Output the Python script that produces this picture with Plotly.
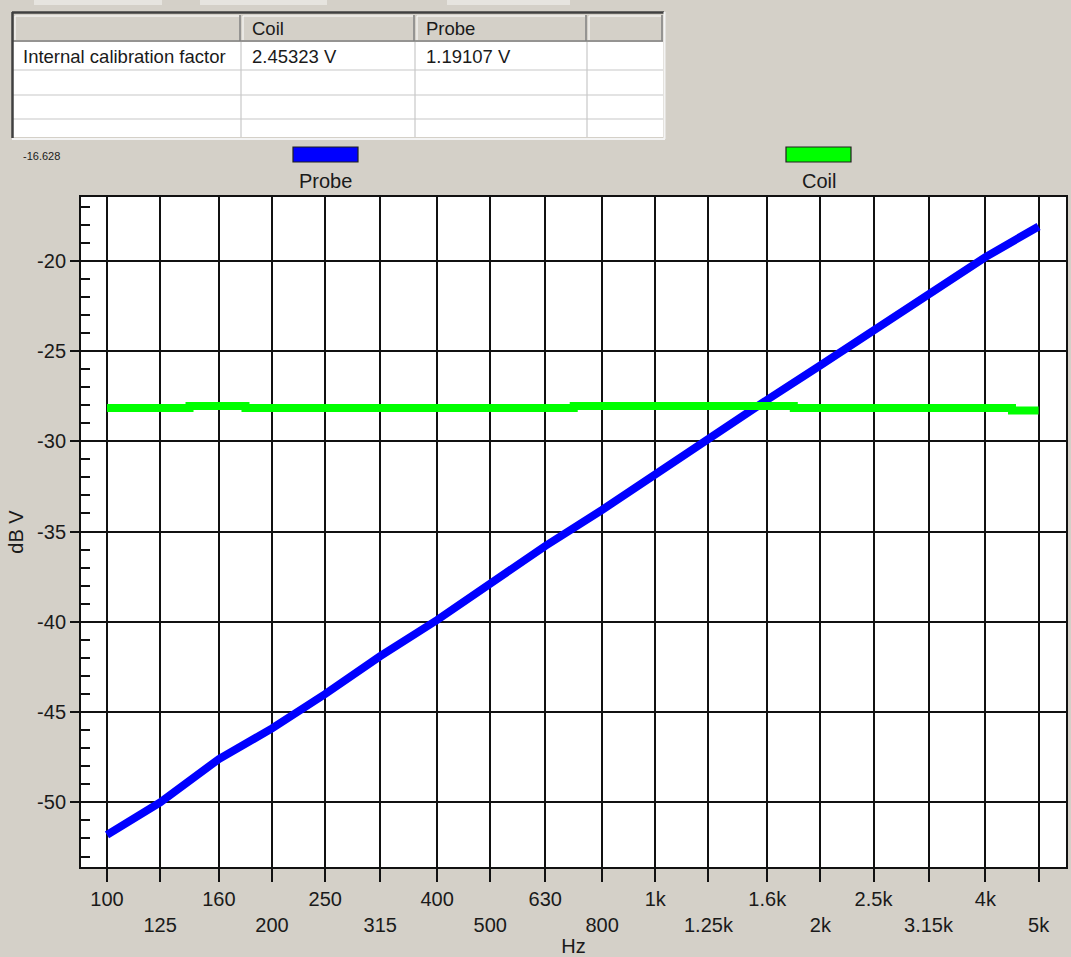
import numpy as np
import plotly.graph_objects as go

# ---------------- data ----------------
freq_hz = [100, 125, 160, 200, 250, 315, 400, 500, 630, 800,
           1000, 1250, 1600, 2000, 2500, 3150, 4000, 5000]
freq_labels = ["100", "125", "160", "200", "250", "315", "400", "500", "630", "800",
               "1k", "1.25k", "1.6k", "2k", "2.5k", "3.15k", "4k", "5k"]
probe_db = [-51.8, -50.0, -47.6, -45.9, -44.0, -41.9, -39.9, -37.9, -35.8, -33.8,
            -31.8, -29.9, -27.7, -25.8, -23.9, -21.9, -19.8, -18.1]
coil_db = [-28.15, -28.15, -28.05, -28.15, -28.15, -28.15, -28.15, -28.15, -28.15, -28.05,
           -28.05, -28.05, -28.05, -28.15, -28.15, -28.15, -28.15, -28.3]
series_names = ["Probe", "Coil"]
series_colors = ["#0000ff", "#00ff00"]
y_ticks = [-50, -45, -40, -35, -30, -25, -20]
y_tick_labels = ["-50", "-45", "-40", "-35", "-30", "-25", "-20"]
y_top_readout = "-16.628"

table_header = ["", "Coil", "Probe", ""]
table_row_labels = ["Internal calibration factor", "", "", ""]
table_coil = ["2.45323 V", "", "", ""]
table_probe = ["1.19107 V", "", "", ""]

# ---------------- geometry helpers ----------------
W, H = 1071, 957
def px(x):
    return x / W
def py(y):
    return 1 - y / H

BG = "#d4d0c8"
FONT = "Liberation Sans, Arial, sans-serif"

fig = go.Figure()
fig.add_trace(go.Scatter(x=freq_hz, y=probe_db, name=series_names[0], mode="lines",
                         line=dict(color=series_colors[0], width=8), showlegend=False))
fig.add_trace(go.Scatter(x=freq_hz, y=coil_db, name=series_names[1], mode="lines",
                         line=dict(color=series_colors[1], width=8, shape="hvh"),
                         showlegend=False))

# two staggered rows of tick labels
ticktext = [lab if i % 2 == 0 else "<br>" + lab for i, lab in enumerate(freq_labels)]

fig.update_layout(
    width=W, height=H,
    margin=dict(l=0, r=0, t=0, b=0, pad=0),
    paper_bgcolor=BG, plot_bgcolor="white",
    font=dict(family=FONT, size=20, color="#1a1a1a"),
    xaxis=dict(type="log", domain=[px(81), px(1066)],
               range=[1.9526, 3.749],
               tickvals=freq_hz, ticktext=ticktext, tickangle=0,
               ticks="outside", ticklen=13, tickwidth=2, tickcolor="#111",
               showgrid=True, gridcolor="#111", gridwidth=1.6,
               showline=True, linecolor="#111", linewidth=2, mirror=True,
               zeroline=False,
               title=dict(text="Hz", standoff=2, font=dict(size=20)),
               tickfont=dict(size=20)),
    yaxis=dict(domain=[py(867), py(197)],
               range=[-53.58, -16.47],
               tickvals=y_ticks, ticktext=y_tick_labels,
               ticks="outside", ticklen=9, tickwidth=2, tickcolor="#111",
               showgrid=True, gridcolor="#111", gridwidth=1.6,
               showline=True, linecolor="#111", linewidth=2, mirror=True,
               zeroline=False,
               minor=dict(dtick=1, ticks="inside", ticklen=9, tickwidth=2,
                          tickcolor="#111", showgrid=False),
               title=dict(text="dB V", standoff=8, font=dict(size=20)),
               tickfont=dict(size=20)),
)

shapes = []
annotations = []

# faint tab strips at the very top
for x0, x1 in [(34, 162), (200, 327), (447, 570)]:
    shapes.append(dict(type="rect", xref="paper", yref="paper",
                       x0=px(x0), x1=px(x1), y0=py(5), y1=py(0),
                       fillcolor="#e6e4df", line=dict(width=0), layer="below"))

# ---------------- table ----------------
col_x = [13, 241, 415, 587, 663]
row_y = [13, 42, 70, 95, 119, 137]
# body white
shapes.append(dict(type="rect", xref="paper", yref="paper",
                   x0=px(col_x[0]), x1=px(col_x[-1]), y0=py(row_y[-1]), y1=py(row_y[1]),
                   fillcolor="white", line=dict(width=0)))
# header cells (raised look)
for c in range(4):
    shapes.append(dict(type="rect", xref="paper", yref="paper",
                       x0=px(col_x[c]), x1=px(col_x[c + 1]), y0=py(row_y[1]), y1=py(row_y[0]),
                       fillcolor=BG, line=dict(width=0)))
    shapes.append(dict(type="line", xref="paper", yref="paper",
                       x0=px(col_x[c] + 2), x1=px(col_x[c + 1] - 2), y0=py(row_y[0] + 3), y1=py(row_y[0] + 3),
                       line=dict(color="white", width=1)))
    shapes.append(dict(type="line", xref="paper", yref="paper",
                       x0=px(col_x[c] + 2), x1=px(col_x[c] + 2), y0=py(row_y[1] - 2), y1=py(row_y[0] + 3),
                       line=dict(color="white", width=1)))
    shapes.append(dict(type="line", xref="paper", yref="paper",
                       x0=px(col_x[c + 1] - 1), x1=px(col_x[c + 1] - 1), y0=py(row_y[1] - 1), y1=py(row_y[0] + 2),
                       line=dict(color="#808080", width=1.5)))
    shapes.append(dict(type="line", xref="paper", yref="paper",
                       x0=px(col_x[c]), x1=px(col_x[c + 1]), y0=py(row_y[1] - 1), y1=py(row_y[1] - 1),
                       line=dict(color="#808080", width=1.5)))
# body grid lines
for r in range(2, 5):
    shapes.append(dict(type="line", xref="paper", yref="paper",
                       x0=px(col_x[0]), x1=px(col_x[-1]), y0=py(row_y[r]), y1=py(row_y[r]),
                       line=dict(color="#c8c8c8", width=1.2)))
for c in range(1, 4):
    shapes.append(dict(type="line", xref="paper", yref="paper",
                       x0=px(col_x[c]), x1=px(col_x[c]), y0=py(row_y[-1]), y1=py(row_y[1]),
                       line=dict(color="#c8c8c8", width=1.2)))
# outer sunken border
shapes.append(dict(type="line", xref="paper", yref="paper",
                   x0=px(12), x1=px(664), y0=py(12.5), y1=py(12.5),
                   line=dict(color="#404040", width=2.5)))
shapes.append(dict(type="line", xref="paper", yref="paper",
                   x0=px(12.5), x1=px(12.5), y0=py(138), y1=py(12),
                   line=dict(color="#404040", width=2.5)))
shapes.append(dict(type="line", xref="paper", yref="paper",
                   x0=px(12), x1=px(665), y0=py(139), y1=py(139),
                   line=dict(color="#f4f4f4", width=2)))
shapes.append(dict(type="line", xref="paper", yref="paper",
                   x0=px(664.5), x1=px(664.5), y0=py(139), y1=py(12),
                   line=dict(color="#f4f4f4", width=2)))

text_cols = [table_row_labels, table_coil, table_probe]
text_x = [21, 250, 424]
for c, hdr in enumerate(table_header):
    if hdr:
        annotations.append(dict(text=hdr, xref="paper", yref="paper", x=px(col_x[c] + 9),
                                y=py((row_y[0] + row_y[1]) / 2 + 1), xanchor="left", yanchor="middle",
                                showarrow=False, font=dict(size=18.5, family=FONT, color="#1a1a1a")))
for c, col in enumerate(text_cols):
    for r, val in enumerate(col):
        if val:
            annotations.append(dict(text=val, xref="paper", yref="paper", x=px(text_x[c]),
                                    y=py((row_y[r + 1] + row_y[r + 2]) / 2), xanchor="left",
                                    yanchor="middle", showarrow=False,
                                    font=dict(size=18.5, family=FONT, color="#1a1a1a")))

# top readout
annotations.append(dict(text=y_top_readout, xref="paper", yref="paper", x=px(21), y=py(156),
                        xanchor="left", yanchor="middle", showarrow=False,
                        font=dict(size=11, family=FONT, color="#1a1a1a")))

# ---------------- custom legend ----------------
legend_cx = [325.5, 818.5]
for name, color, cx in zip(series_names, series_colors, legend_cx):
    shapes.append(dict(type="rect", xref="paper", yref="paper",
                       x0=px(cx - 32.5), x1=px(cx + 32.5), y0=py(162), y1=py(147),
                       fillcolor=color, line=dict(color="#202020", width=1.2)))
    annotations.append(dict(text=name, xref="paper", yref="paper", x=px(cx), y=py(181),
                            xanchor="center", yanchor="middle", showarrow=False,
                            font=dict(size=20, family=FONT, color="#1a1a1a")))

fig.update_layout(shapes=shapes, annotations=annotations)
fig.write_html("out.html",
               config={"displayModeBar": False},
               post_script="document.body.style.margin='0';"
                           "document.body.style.background='#d4d0c8';")
